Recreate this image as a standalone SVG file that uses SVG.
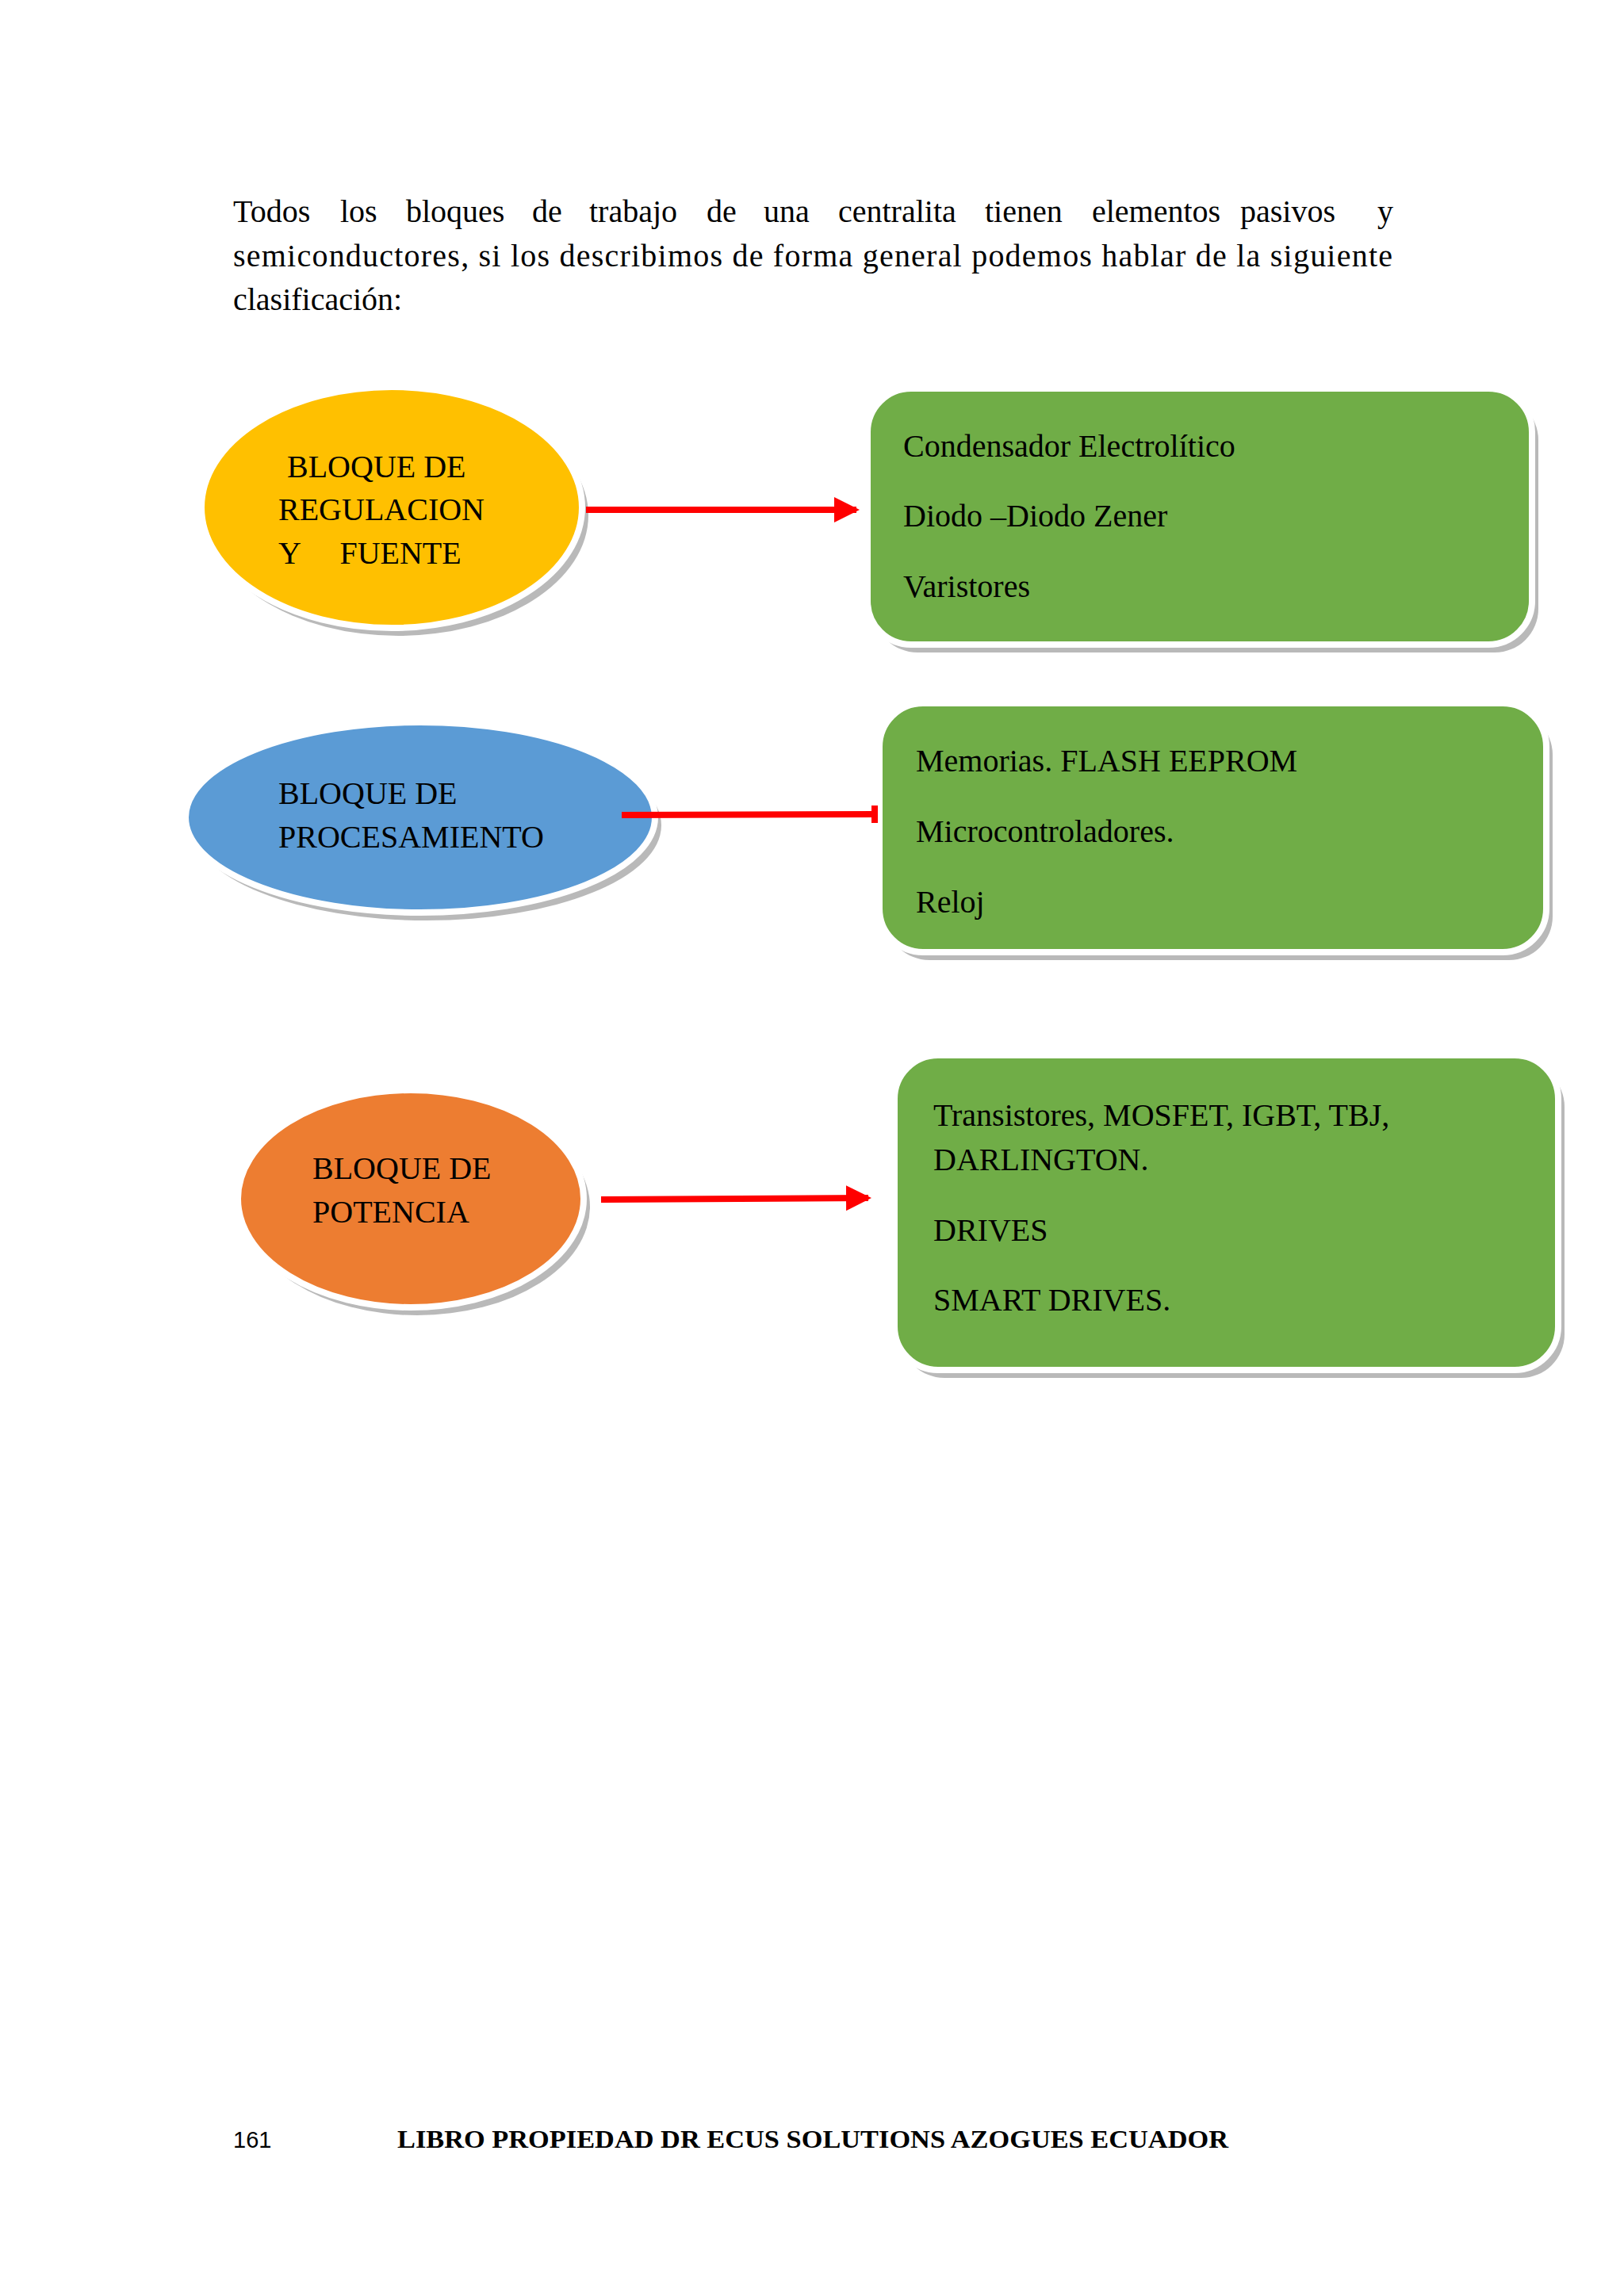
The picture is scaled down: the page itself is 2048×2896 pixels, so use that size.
<svg xmlns="http://www.w3.org/2000/svg" width="2048" height="2896" viewBox="0 0 2048 2896">
<style>
.t{font-family:"Liberation Serif",serif;font-size:40px;fill:#000}
.box{fill:#70AD47;stroke:#fff;stroke-width:8}
.sh{fill:#a8a8a8;opacity:0.8}
.arr{stroke:#FF0000;stroke-width:8;fill:none}
</style>
<defs>
<marker id="ah" markerWidth="4" markerHeight="4" refX="3.5" refY="2" orient="auto" markerUnits="strokeWidth"><path d="M0,0 L4,2 L0,4 z" fill="#FF0000"/></marker>
</defs>
<rect width="2048" height="2896" fill="#fff"/>
<text class="t" y="280"><tspan x="294">Todos</tspan><tspan x="429">los</tspan><tspan x="512">bloques</tspan><tspan x="671">de</tspan><tspan x="743">trabajo</tspan><tspan x="891">de</tspan><tspan x="963">una</tspan><tspan x="1057">centralita</tspan><tspan x="1242">tienen</tspan><tspan x="1377">elementos</tspan><tspan x="1564">pasivos</tspan><tspan x="1737">y</tspan></text>
<text class="t" x="294" y="336" textLength="1462" lengthAdjust="spacing">semiconductores, si los describimos de forma general podemos hablar de la siguiente</text>
<text class="t" x="294" y="391">clasificación:</text>

<g id="n1">
<ellipse cx="502" cy="650" rx="240" ry="152" class="sh" fill="#c9b27a"/>
<ellipse cx="494" cy="640" rx="240" ry="152" fill="#FFC000" stroke="#fff" stroke-width="8"/>
<text class="t" x="362" y="602">BLOQUE DE</text>
<text class="t" x="351" y="656">REGULACION</text>
<text class="t" x="351" y="711" xml:space="preserve">Y     FUENTE</text>
</g>
<g id="b1">
<rect x="1102" y="500" width="838" height="323" rx="55" class="sh"/>
<rect x="1094" y="490" width="838" height="323" rx="55" class="box"/>
<text class="t" x="1139" y="576">Condensador Electrolítico</text>
<text class="t" x="1139" y="664">Diodo –Diodo Zener</text>
<text class="t" x="1139" y="753">Varistores</text>
</g>

<g id="n2">
<ellipse cx="538" cy="1041" rx="296" ry="120" class="sh" fill="#8fa3c0"/>
<ellipse cx="530" cy="1031" rx="296" ry="120" fill="#5B9BD5" stroke="#fff" stroke-width="8"/>
<text class="t" x="351" y="1014">BLOQUE DE</text>
<text class="t" x="351" y="1069">PROCESAMIENTO</text>
</g>
<g id="b2">
<rect x="1117" y="897" width="841" height="314" rx="55" class="sh"/>
<rect x="1109" y="887" width="841" height="314" rx="55" class="box"/>
<text class="t" x="1155" y="973">Memorias. FLASH EEPROM</text>
<text class="t" x="1155" y="1062">Microcontroladores.</text>
<text class="t" x="1155" y="1151">Reloj</text>
</g>

<g id="n3">
<ellipse cx="526" cy="1522" rx="218" ry="137" class="sh" fill="#c09070"/>
<ellipse cx="518" cy="1512" rx="218" ry="137" fill="#ED7D31" stroke="#fff" stroke-width="8"/>
<text class="t" x="394" y="1487">BLOQUE DE</text>
<text class="t" x="394" y="1542">POTENCIA</text>
</g>
<g id="b3">
<rect x="1136" y="1341" width="837" height="397" rx="55" class="sh"/>
<rect x="1128" y="1331" width="837" height="397" rx="55" class="box"/>
<text class="t" x="1177" y="1420">Transistores, MOSFET, IGBT, TBJ,</text>
<text class="t" x="1177" y="1476">DARLINGTON.</text>
<text class="t" x="1177" y="1565">DRIVES</text>
<text class="t" x="1177" y="1653">SMART DRIVES.</text>
</g>

<g id="connectors">
<line class="arr" x1="739" y1="643" x2="1080" y2="643" marker-end="url(#ah)"/>
<line class="arr" x1="784" y1="1028" x2="1103" y2="1027"/>
<line class="arr" x1="1103" y1="1016" x2="1103" y2="1038" stroke-width="3"/>
<line class="arr" x1="758" y1="1513" x2="1095" y2="1511" marker-end="url(#ah)"/>
</g>

<text x="294" y="2709" font-family="Liberation Sans,sans-serif" font-size="29">161</text>
<text x="501" y="2709" font-family="Liberation Serif,serif" font-weight="bold" font-size="32" textLength="1048" lengthAdjust="spacingAndGlyphs">LIBRO PROPIEDAD DR ECUS SOLUTIONS AZOGUES ECUADOR</text>
</svg>
